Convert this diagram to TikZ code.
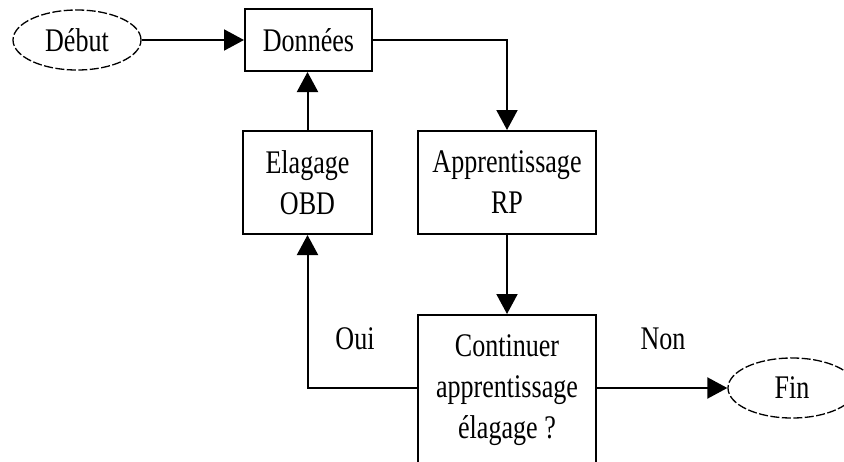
\documentclass[tikz,border=0pt]{standalone}
\usepackage{fontspec}
\setmainfont[FakeStretch=0.79]{Liberation Serif}
\usetikzlibrary{arrows.meta,shapes.geometric}

\tikzset{
  box/.style={draw, line width=2pt, inner sep=0pt, align=center,
              font=\fontsize{33}{41}\selectfont},
  term/.style={draw, ellipse, dash pattern=on 9pt off 2.5pt, line width=1.3pt,
               inner sep=0pt, minimum width=128pt, minimum height=60pt,
               font=\fontsize{33}{41}\selectfont},
  lbl/.style={inner sep=0pt, align=center, font=\fontsize{33}{41}\selectfont},
  flow/.style={line width=2pt, -{Triangle[length=20pt,width=21pt]}},
}

\begin{document}
\begin{tikzpicture}[x=1pt, y=-1pt]
  \useasboundingbox (0,0) rectangle (844,461);
  \clip (0,0) rectangle (844,461);
  \fill[white] (0,0) rectangle (844,461);

  % start / end terminals
  \node[term] (debut) at (77,40) {Début};
  \node[term] (fin) at (792,388) {Fin};

  % process boxes
  \node[box, minimum width=127pt, minimum height=62pt] (donnees) at (308.5,40) {Données};
  \node[box, minimum width=129pt, minimum height=103pt] (elagage) at (307.5,182.5) {Elagage\\OBD};
  \node[box, minimum width=178pt, minimum height=103pt] (apprent) at (507,182.5) {Apprentissage\\RP};
  % decision box runs past the lower edge of the page
  \node[box, minimum width=178pt, minimum height=176pt, anchor=north] (cont) at (507,314) {};
  \node[lbl] (conttext) at (507,390) {Continuer\\apprentissage\\élagage ?};

  % branch labels
  \node[lbl] (oui) at (355,339) {Oui};
  \node[lbl] (non) at (663,339) {Non};

  % connectors
  \draw[flow] (debut) -- (donnees);
  \draw[flow] (donnees.east) -| (apprent.north);
  \draw[flow] (elagage.north) -- (elagage.north |- donnees.south);
  \draw[flow] (apprent) -- (cont);
  \draw[flow] (cont.west |- fin) -| (elagage.south);
  \draw[flow] (cont.east |- fin) -- (fin);
\end{tikzpicture}
\end{document}
